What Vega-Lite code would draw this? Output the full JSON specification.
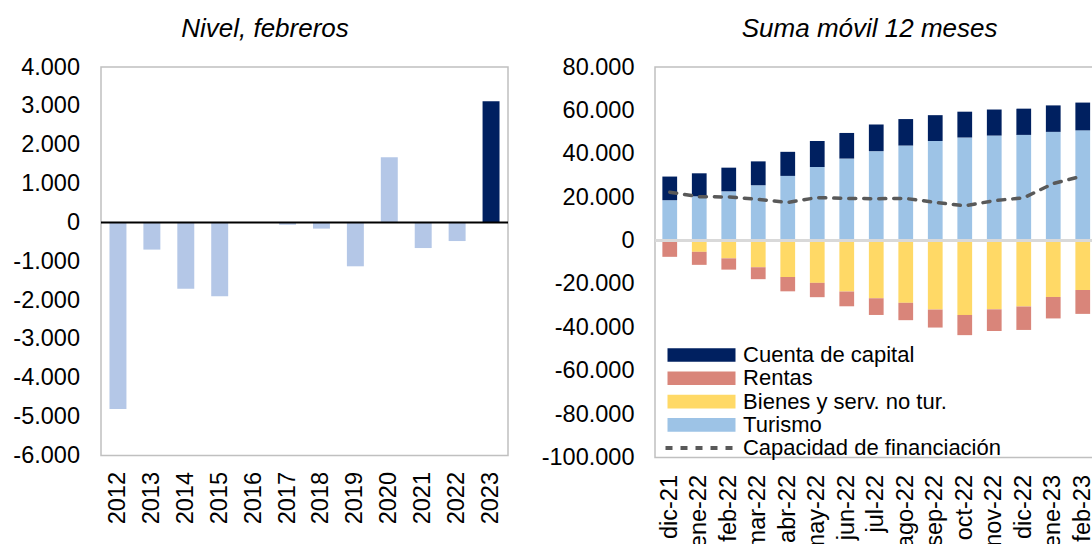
{
  "$schema": "https://vega.github.io/schema/vega-lite/v6.json",
  "padding": {"left": 12, "top": 15, "right": 0, "bottom": 0},
  "background": "#ffffff",
  "spacing": 30,
  "resolve": {"legend": {"color": "independent", "strokeDash": "independent"}, "scale": {"color": "independent", "strokeDash": "independent"}},
  "config": {
    "font": "Liberation Sans",
    "locale": {"number": {"decimal": ",", "thousands": ".", "grouping": [3], "currency": ["", " €"], "minus": "-"}},
    "view": {"stroke": "#C0C0C0", "strokeWidth": 1.5},
    "axis": {"labelFont": "Liberation Sans", "labelFontSize": 23.5, "labelColor": "#000000", "domain": false, "ticks": false, "grid": false, "labelOverlap": false},
    "legend": {"labelFont": "Liberation Sans", "labelColor": "#000000", "labelLimit": 500}
  },
  "datasets": {
    "febreros": [
      {"anio": "2012", "valor": -4800},
      {"anio": "2013", "valor": -700},
      {"anio": "2014", "valor": -1710},
      {"anio": "2015", "valor": -1900},
      {"anio": "2016", "valor": 0},
      {"anio": "2017", "valor": -60},
      {"anio": "2018", "valor": -160},
      {"anio": "2019", "valor": -1130},
      {"anio": "2020", "valor": 1680},
      {"anio": "2021", "valor": -660},
      {"anio": "2022", "valor": -480},
      {"anio": "2023", "valor": 3120}
    ],
    "movil": [
      {"mes": "dic-21", "serie": "Turismo", "valor": 18600},
      {"mes": "dic-21", "serie": "Cuenta de capital", "valor": 10900},
      {"mes": "dic-21", "serie": "Bienes y serv. no tur.", "valor": -200},
      {"mes": "dic-21", "serie": "Rentas", "valor": -7300},
      {"mes": "dic-21", "serie": "Capacidad de financiación", "valor": 22300},
      {"mes": "ene-22", "serie": "Turismo", "valor": 20400},
      {"mes": "ene-22", "serie": "Cuenta de capital", "valor": 10600},
      {"mes": "ene-22", "serie": "Bienes y serv. no tur.", "valor": -5200},
      {"mes": "ene-22", "serie": "Rentas", "valor": -6000},
      {"mes": "ene-22", "serie": "Capacidad de financiación", "valor": 20200},
      {"mes": "feb-22", "serie": "Turismo", "valor": 22700},
      {"mes": "feb-22", "serie": "Cuenta de capital", "valor": 10900},
      {"mes": "feb-22", "serie": "Bienes y serv. no tur.", "valor": -8200},
      {"mes": "feb-22", "serie": "Rentas", "valor": -5200},
      {"mes": "feb-22", "serie": "Capacidad de financiación", "valor": 20100},
      {"mes": "mar-22", "serie": "Turismo", "valor": 25500},
      {"mes": "mar-22", "serie": "Cuenta de capital", "valor": 11000},
      {"mes": "mar-22", "serie": "Bienes y serv. no tur.", "valor": -12300},
      {"mes": "mar-22", "serie": "Rentas", "valor": -5500},
      {"mes": "mar-22", "serie": "Capacidad de financiación", "valor": 19000},
      {"mes": "abr-22", "serie": "Turismo", "valor": 29800},
      {"mes": "abr-22", "serie": "Cuenta de capital", "valor": 11100},
      {"mes": "abr-22", "serie": "Bienes y serv. no tur.", "valor": -16800},
      {"mes": "abr-22", "serie": "Rentas", "valor": -6600},
      {"mes": "abr-22", "serie": "Capacidad de financiación", "valor": 17600},
      {"mes": "may-22", "serie": "Turismo", "valor": 33900},
      {"mes": "may-22", "serie": "Cuenta de capital", "valor": 12000},
      {"mes": "may-22", "serie": "Bienes y serv. no tur.", "valor": -19500},
      {"mes": "may-22", "serie": "Rentas", "valor": -6600},
      {"mes": "may-22", "serie": "Capacidad de financiación", "valor": 19800},
      {"mes": "jun-22", "serie": "Turismo", "valor": 37800},
      {"mes": "jun-22", "serie": "Cuenta de capital", "valor": 11800},
      {"mes": "jun-22", "serie": "Bienes y serv. no tur.", "valor": -23500},
      {"mes": "jun-22", "serie": "Rentas", "valor": -6800},
      {"mes": "jun-22", "serie": "Capacidad de financiación", "valor": 19400},
      {"mes": "jul-22", "serie": "Turismo", "valor": 41200},
      {"mes": "jul-22", "serie": "Cuenta de capital", "valor": 12300},
      {"mes": "jul-22", "serie": "Bienes y serv. no tur.", "valor": -26600},
      {"mes": "jul-22", "serie": "Rentas", "valor": -7700},
      {"mes": "jul-22", "serie": "Capacidad de financiación", "valor": 19300},
      {"mes": "ago-22", "serie": "Turismo", "valor": 43800},
      {"mes": "ago-22", "serie": "Cuenta de capital", "valor": 12200},
      {"mes": "ago-22", "serie": "Bienes y serv. no tur.", "valor": -28700},
      {"mes": "ago-22", "serie": "Rentas", "valor": -8000},
      {"mes": "ago-22", "serie": "Capacidad de financiación", "valor": 19400},
      {"mes": "sep-22", "serie": "Turismo", "valor": 45900},
      {"mes": "sep-22", "serie": "Cuenta de capital", "valor": 11900},
      {"mes": "sep-22", "serie": "Bienes y serv. no tur.", "valor": -31800},
      {"mes": "sep-22", "serie": "Rentas", "valor": -8300},
      {"mes": "sep-22", "serie": "Capacidad de financiación", "valor": 17600},
      {"mes": "oct-22", "serie": "Turismo", "valor": 47500},
      {"mes": "oct-22", "serie": "Cuenta de capital", "valor": 11900},
      {"mes": "oct-22", "serie": "Bienes y serv. no tur.", "valor": -34300},
      {"mes": "oct-22", "serie": "Rentas", "valor": -9300},
      {"mes": "oct-22", "serie": "Capacidad de financiación", "valor": 16000},
      {"mes": "nov-22", "serie": "Turismo", "valor": 48400},
      {"mes": "nov-22", "serie": "Cuenta de capital", "valor": 12000},
      {"mes": "nov-22", "serie": "Bienes y serv. no tur.", "valor": -31700},
      {"mes": "nov-22", "serie": "Rentas", "valor": -10000},
      {"mes": "nov-22", "serie": "Capacidad de financiación", "valor": 18400},
      {"mes": "dic-22", "serie": "Turismo", "valor": 48700},
      {"mes": "dic-22", "serie": "Cuenta de capital", "valor": 12100},
      {"mes": "dic-22", "serie": "Bienes y serv. no tur.", "valor": -30400},
      {"mes": "dic-22", "serie": "Rentas", "valor": -10800},
      {"mes": "dic-22", "serie": "Capacidad de financiación", "valor": 19700},
      {"mes": "ene-23", "serie": "Turismo", "valor": 50100},
      {"mes": "ene-23", "serie": "Cuenta de capital", "valor": 12200},
      {"mes": "ene-23", "serie": "Bienes y serv. no tur.", "valor": -26000},
      {"mes": "ene-23", "serie": "Rentas", "valor": -9900},
      {"mes": "ene-23", "serie": "Capacidad de financiación", "valor": 26300},
      {"mes": "feb-23", "serie": "Turismo", "valor": 50800},
      {"mes": "feb-23", "serie": "Cuenta de capital", "valor": 12800},
      {"mes": "feb-23", "serie": "Bienes y serv. no tur.", "valor": -22800},
      {"mes": "feb-23", "serie": "Rentas", "valor": -11000},
      {"mes": "feb-23", "serie": "Capacidad de financiación", "valor": 29800}
    ]
  },
  "hconcat": [
    {
      "title": {"text": "Nivel, febreros", "fontStyle": "italic", "fontWeight": "normal", "fontSize": 26, "font": "Liberation Sans", "color": "#000000", "frame": "group", "anchor": "middle", "dx": -39.5, "baseline": "alphabetic", "offset": -8},
      "width": 407,
      "height": 388.5,
      "data": {"name": "febreros"},
      "layer": [
        {
          "mark": {"type": "bar"},
          "encoding": {
            "x": {"field": "anio", "type": "ordinal", "title": null, "scale": {"paddingInner": 0.5, "paddingOuter": 0.25}, "axis": {"labelAngle": -90, "labelPadding": 16}},
            "y": {"field": "valor", "type": "quantitative", "title": null, "scale": {"domain": [-6000, 4000], "nice": false}, "axis": {"values": [-6000, -5000, -4000, -3000, -2000, -1000, 0, 1000, 2000, 3000, 4000], "format": ",d", "labelPadding": 21.5, "labelOverlap": false}},
            "color": {"condition": {"test": "datum.anio == '2023'", "value": "#002060"}, "value": "#B4C7E7"}
          }
        },
        {
          "data": {"values": [{}]},
          "mark": {"type": "rule", "color": "#000000", "strokeWidth": 2},
          "encoding": {"y": {"datum": 0, "type": "quantitative", "title": null, "axis": {"values": [-6000, -5000, -4000, -3000, -2000, -1000, 0, 1000, 2000, 3000, 4000], "format": ",d", "labelPadding": 21.5, "labelOverlap": false}}}
        }
      ]
    },
    {
      "title": {"text": "Suma móvil 12 meses", "fontStyle": "italic", "fontWeight": "normal", "fontSize": 26, "font": "Liberation Sans", "color": "#000000", "frame": "group", "anchor": "middle", "dx": -6.6, "baseline": "alphabetic", "offset": -8},
      "width": 442.5,
      "height": 390.5,
      "data": {"name": "movil"},
      "layer": [
        {
          "transform": [{"filter": {"field": "serie", "oneOf": ["Turismo", "Cuenta de capital"]}}],
          "mark": {"type": "bar"},
          "encoding": {
            "x": {"field": "mes", "type": "ordinal", "title": null, "scale": {"domain": ["dic-21", "ene-22", "feb-22", "mar-22", "abr-22", "may-22", "jun-22", "jul-22", "ago-22", "sep-22", "oct-22", "nov-22", "dic-22", "ene-23", "feb-23"], "paddingInner": 0.5, "paddingOuter": 0.25}, "axis": {"labelAngle": -90, "labelPadding": 17}},
            "y": {"field": "valor", "type": "quantitative", "title": null, "stack": "zero", "scale": {"domain": [-100000, 80000], "nice": false}, "axis": {"values": [-100000, -80000, -60000, -40000, -20000, 0, 20000, 40000, 60000, 80000], "format": ",d", "labelPadding": 21}},
            "color": {
              "field": "serie", "type": "nominal",
              "scale": {"domain": ["Cuenta de capital", "Rentas", "Bienes y serv. no tur.", "Turismo"], "range": ["#002060", "#D9857A", "#FFD966", "#9DC3E6"]},
              "legend": {"orient": "none", "legendX": 35.5, "legendY": 277, "title": null, "symbolType": "M-4,-0.8H4V0.8H-4Z", "symbolSize": 289, "symbolStrokeWidth": 0, "symbolOpacity": 1, "labelFontSize": 22, "labelOffset": 30.6, "rowPadding": 1.3, "padding": 0}
            },
            "order": {"field": "serie", "sort": "descending"}
          }
        },
        {
          "transform": [{"filter": {"field": "serie", "oneOf": ["Bienes y serv. no tur.", "Rentas"]}}],
          "mark": {"type": "bar"},
          "encoding": {
            "x": {"field": "mes", "type": "ordinal", "title": null},
            "y": {"field": "valor", "type": "quantitative", "title": null, "stack": "zero", "axis": {"values": [-100000, -80000, -60000, -40000, -20000, 0, 20000, 40000, 60000, 80000], "format": ",d", "labelPadding": 21}},
            "color": {"field": "serie", "type": "nominal"},
            "order": {"field": "serie", "sort": "ascending"}
          }
        },
        {
          "data": {"values": [{}]},
          "mark": {"type": "rule", "color": "#D9D9D9", "strokeWidth": 3},
          "encoding": {"y": {"datum": 0, "type": "quantitative", "title": null, "axis": {"values": [-100000, -80000, -60000, -40000, -20000, 0, 20000, 40000, 60000, 80000], "format": ",d", "labelPadding": 21}}}
        },
        {
          "transform": [{"filter": {"field": "serie", "equal": "Capacidad de financiación"}}],
          "mark": {"type": "line", "color": "#595959", "strokeWidth": 3.5, "strokeCap": "round"},
          "encoding": {
            "x": {"field": "mes", "type": "ordinal", "title": null},
            "y": {"field": "valor", "type": "quantitative", "title": null, "axis": {"values": [-100000, -80000, -60000, -40000, -20000, 0, 20000, 40000, 60000, 80000], "format": ",d", "labelPadding": 21}},
            "strokeDash": {
              "field": "serie", "type": "nominal",
              "scale": {"range": [[7, 8]]},
              "legend": {"orient": "none", "legendX": 33.5, "legendY": 370, "title": null, "symbolType": "M-4,0H4", "symbolSize": 289, "symbolStrokeWidth": 4, "symbolStrokeColor": "#595959", "labelFontSize": 22, "labelOffset": 32.4, "padding": 0}
            }
          }
        }
      ]
    }
  ]
}
